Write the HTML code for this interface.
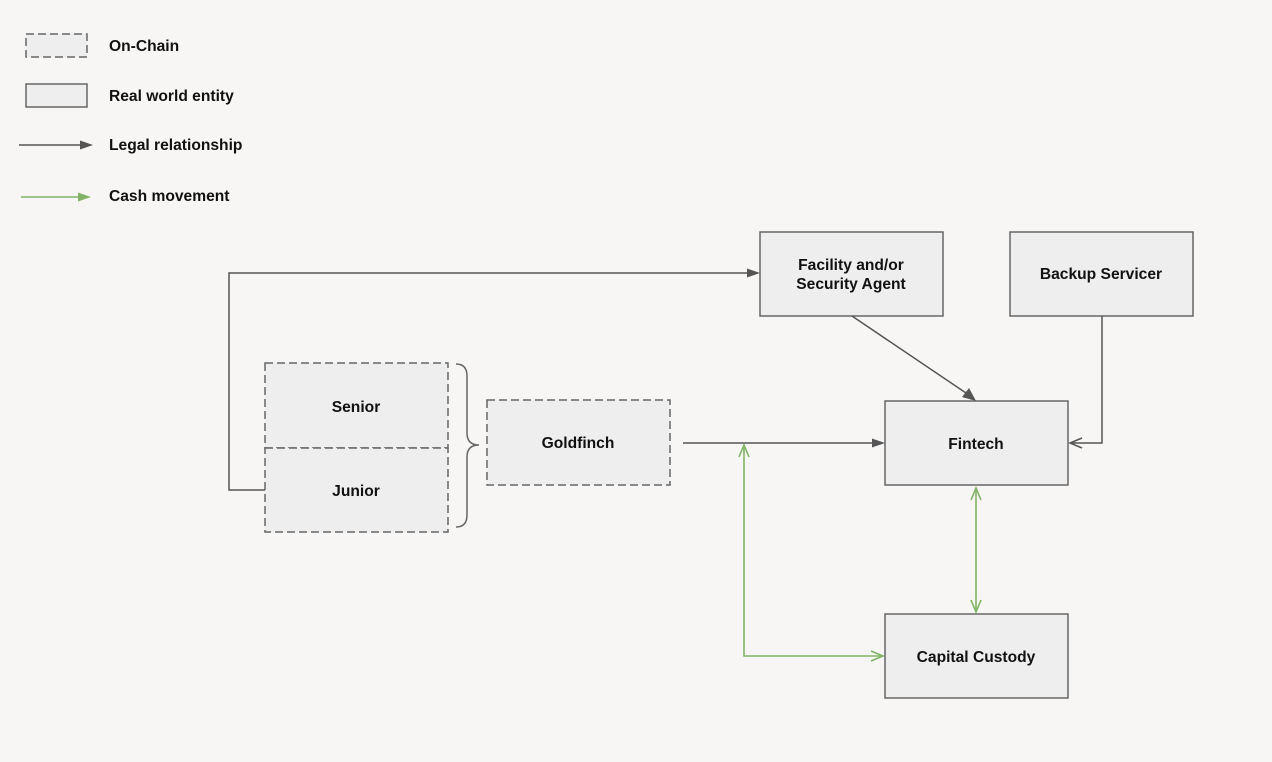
<!DOCTYPE html>
<html><head><meta charset="utf-8"><style>
html,body{margin:0;padding:0;background:#f7f6f4;}
svg{display:block;font-family:"Liberation Sans",Arial,sans-serif;font-weight:bold;}
</style></head><body>
<svg width="1272" height="762" viewBox="0 0 1272 762" xmlns="http://www.w3.org/2000/svg">
<rect width="1272" height="762" fill="#f7f6f4"/>
<g font-size="15.6" fill="#111">
<rect x="26" y="34" width="61" height="23" fill="#eeeeee" stroke="#666" stroke-width="1.5" stroke-dasharray="8,4"/>
<text x="109" y="51">On-Chain</text>
<rect x="26" y="84" width="61" height="23" fill="#eeeeee" stroke="#666" stroke-width="1.5"/>
<text x="109" y="101">Real world entity</text>
<line x1="19" y1="145" x2="80" y2="145" stroke="#555" stroke-width="1.5"/>
<polygon points="93,145 80,140.5 80,149.5" fill="#555"/>
<text x="109" y="150">Legal relationship</text>
<line x1="21" y1="197" x2="80" y2="197" stroke="#82b366" stroke-width="1.5"/>
<polygon points="91,197 78,192.5 78,201.5" fill="#82b366"/>
<text x="109" y="201">Cash movement</text>
</g>

<g fill="#eeeeee" stroke="#666" stroke-width="1.5">
<rect x="760" y="232" width="183" height="84"/>
<rect x="1010" y="232" width="183" height="84"/>
<rect x="885" y="401" width="183" height="84"/>
<rect x="885" y="614" width="183" height="84"/>
</g>
<g fill="#eeeeee" stroke="#666" stroke-width="1.5" stroke-dasharray="8,4">
<rect x="487" y="400" width="183" height="85"/>
<rect x="265" y="363" width="183" height="85"/>
<rect x="265" y="448" width="183" height="84"/>
</g>
<path d="M456,364 Q467,364 467,376 L467,433 Q467,445 479,445 Q467,445 467,457 L467,515 Q467,527 456,527" fill="none" stroke="#666" stroke-width="1.5"/>

<g stroke="#555" stroke-width="1.5" fill="none">
<polyline points="265,490 229,490 229,273 748,273"/>
<line x1="852" y1="316" x2="966" y2="393"/>
<polyline points="1102,316 1102,443 1072,443"/>
<line x1="683" y1="443" x2="872" y2="443"/>
</g>
<polygon points="760,273 747,268.5 747,277.5" fill="#555"/>
<polygon points="976,401 962,397 969,388" fill="#555"/>
<polygon points="885,443 872,438.5 872,447.5" fill="#555"/>
<polyline points="1082,438 1070,443 1082,448" fill="none" stroke="#555" stroke-width="1.5"/>

<g stroke="#82b366" stroke-width="1.6" fill="none">
<polyline points="744,445 744,656 883,656"/>
<polyline points="739,457 744,445 749,457"/>
<polyline points="871,651 883,656 871,661"/>
<line x1="976" y1="488" x2="976" y2="612"/>
<polyline points="971,500 976,488 981,500"/>
<polyline points="971,600 976,612 981,600"/>
</g>

<g font-size="15.6" fill="#111" text-anchor="middle">
<text x="851" y="270">Facility and/or</text>
<text x="851" y="289">Security Agent</text>
<text x="1101" y="279">Backup Servicer</text>
<text x="976" y="449">Fintech</text>
<text x="976" y="662">Capital Custody</text>
<text x="578" y="448">Goldfinch</text>
<text x="356" y="412">Senior</text>
<text x="356" y="496">Junior</text>
</g>
</svg>
</body></html>
